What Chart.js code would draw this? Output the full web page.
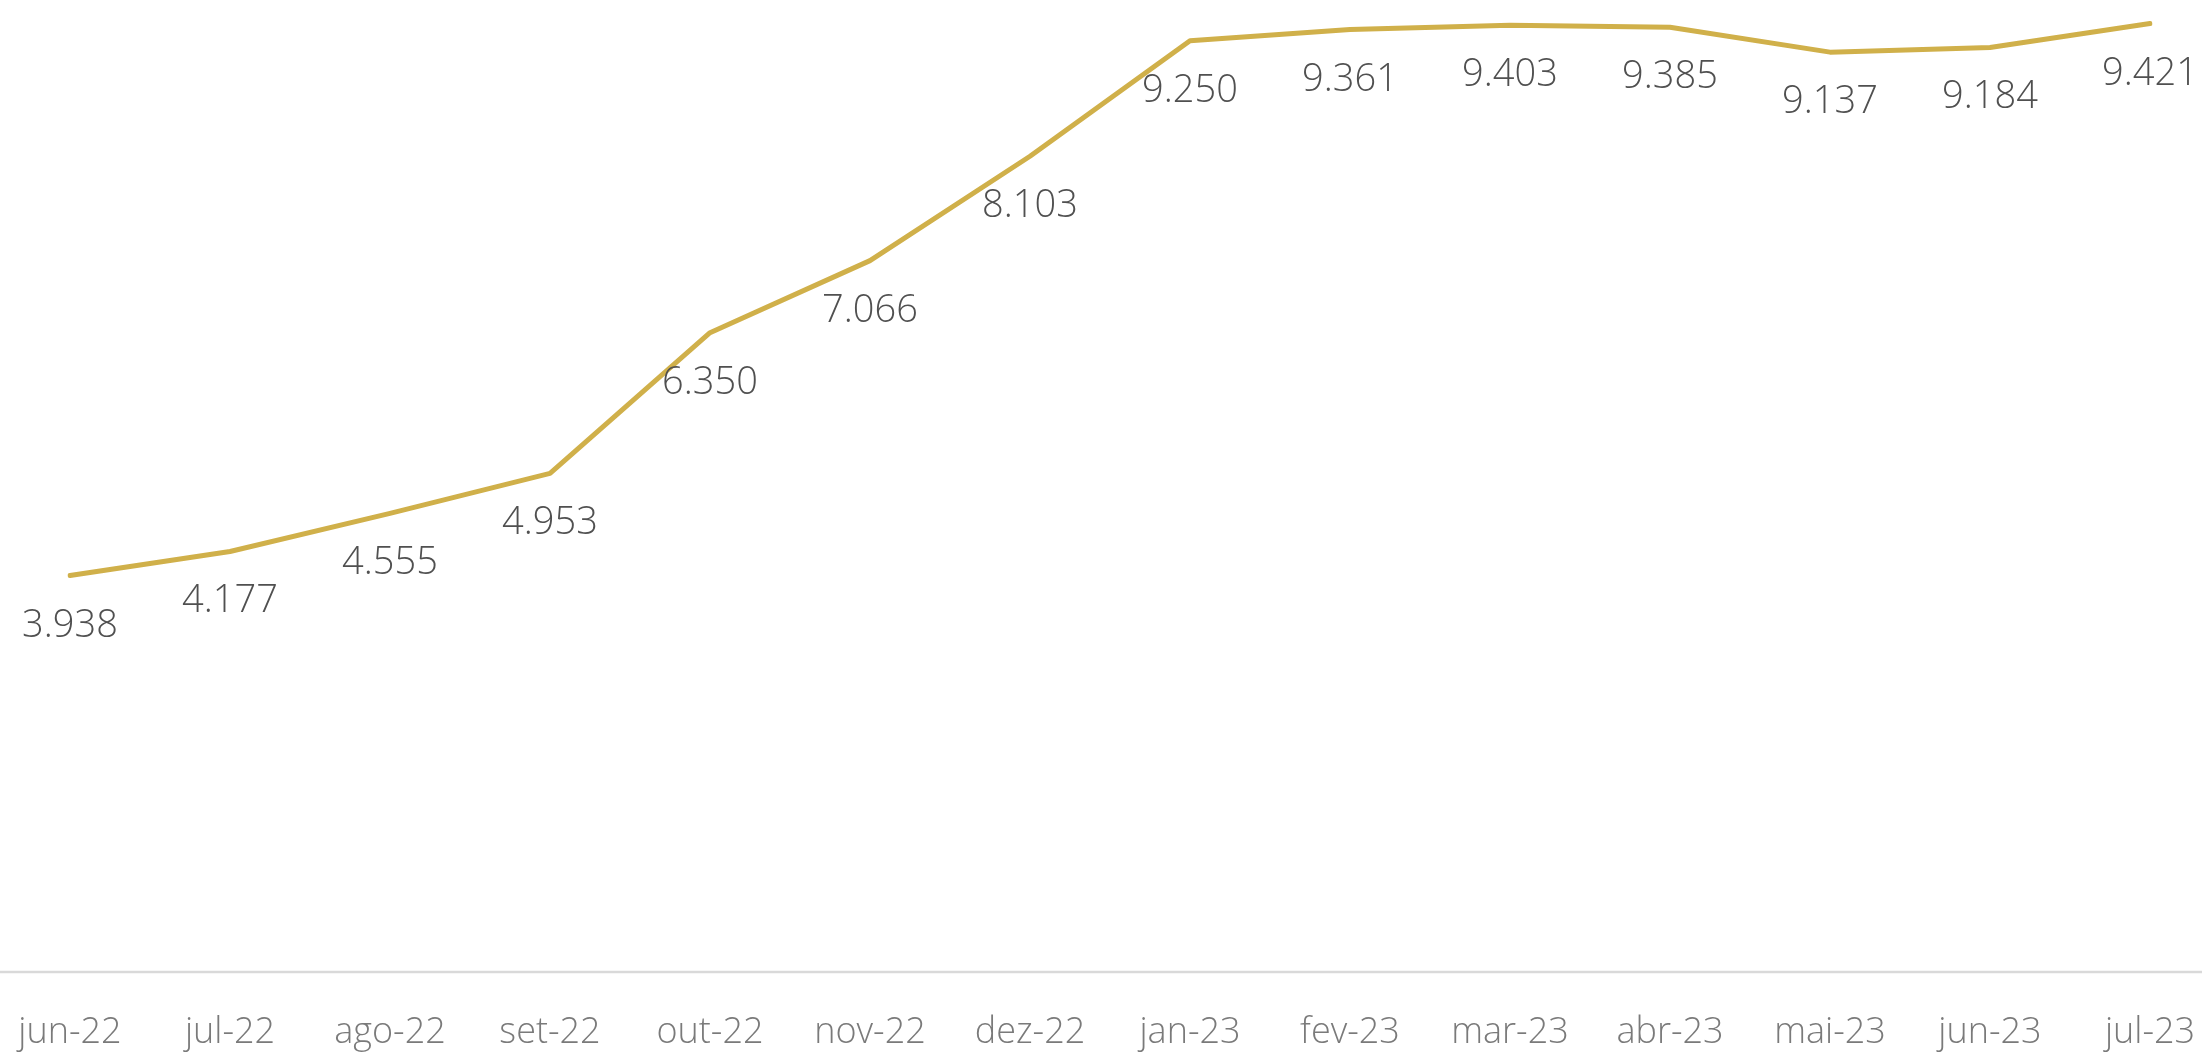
<!DOCTYPE html>
<html>
<head>
<meta charset="utf-8">
<script src="https://cdn.jsdelivr.net/npm/chart.js@4"></script>
<style>
  body { margin: 0; background: #fff; }
  #wrap { width: 2202px; height: 1053px; position: relative; }
</style>
</head>
<body>
<div id="wrap"><canvas id="myChart"></canvas></div>
<script>
// data
const meses = ["jun-22", "jul-22", "ago-22", "set-22", "out-22", "nov-22", "dez-22",
  "jan-23", "fev-23", "mar-23", "abr-23", "mai-23", "jun-23", "jul-23"];
const valores = [3938, 4177, 4555, 4953, 6350, 7066, 8103, 9250, 9361, 9403, 9385, 9137, 9184, 9421];

const fonte = "'Open Sans', 'Noto Sans', sans-serif";

// format with dot as thousands separator
function formatar(v) {
  return String(v).replace(/\B(?=(\d{3})+(?!\d))/g, ".");
}

// draws baseline, data labels and month labels
const rotulos = {
  id: "rotulos",
  afterDatasetsDraw(chart) {
    const ctx = chart.ctx;
    const x = chart.scales.x;
    const y = chart.scales.y;
    const meta = chart.getDatasetMeta(0);

    // baseline
    const y0 = y.getPixelForValue(0);
    ctx.save();
    ctx.strokeStyle = "#d9d9d9";
    ctx.lineWidth = 2.5;
    ctx.beginPath();
    ctx.moveTo(0, y0);
    ctx.lineTo(chart.width, y0);
    ctx.stroke();

    ctx.textAlign = "center";
    ctx.textBaseline = "alphabetic";

    // valores
    ctx.font = "300 38px " + fonte;
    ctx.fillStyle = "#505050";
    meta.data.forEach((pt, i) => {
      const txt = formatar(valores[i]);
      const w = ctx.measureText(txt).width;
      let px = Math.max(pt.x, 2 + w / 2);
      px = Math.min(px, chart.width - w / 2 - 2);
      ctx.fillText(txt, px, pt.y + 61);
    });

    // meses
    ctx.font = "300 36px " + fonte;
    ctx.fillStyle = "#7a7a7a";
    meses.forEach((m, i) => {
      const w = ctx.measureText(m).width;
      let px = Math.max(x.getPixelForValue(i), 2 + w / 2);
      px = Math.min(px, chart.width - w / 2 - 2);
      ctx.fillText(m, px, 1043);
    });
    ctx.restore();
  }
};

const ctx = document.getElementById("myChart");

const myChart = new Chart(ctx, {
  type: "line",
  data: {
    labels: meses,
    datasets: [
      {
        data: valores,
        borderColor: "#d0b04a",
        borderWidth: 5,
        borderCapStyle: "round",
        borderJoinStyle: "round",
        pointRadius: 0,
        tension: 0,
        fill: false,
      },
    ],
  },
  options: {
    responsive: true,
    maintainAspectRatio: false,
    devicePixelRatio: 1,
    animation: false,
    layout: {
      padding: { left: 70, right: 52, top: 0, bottom: 81 },
    },
    plugins: {
      legend: { display: false },
      tooltip: { enabled: false },
    },
    scales: {
      x: { display: false, offset: false },
      y: { display: false, min: 0, max: 9655 },
    },
  },
  plugins: [rotulos],
});
</script>
</body>
</html>
